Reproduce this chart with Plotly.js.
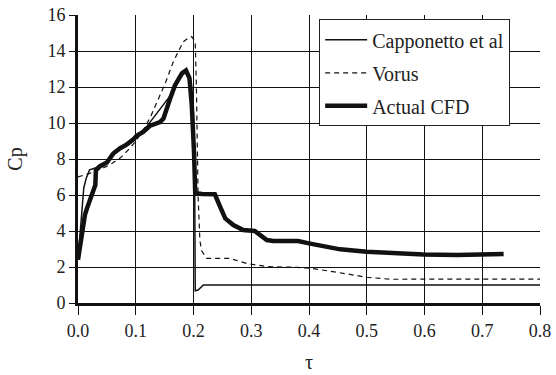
<!DOCTYPE html>
<html>
<head>
<meta charset="utf-8">
<script src="https://cdn.plot.ly/plotly-3.0.1.min.js"></script>
<style>html,body{margin:0;padding:0;background:#fff;}#chart{width:556px;height:375px;}</style>
</head>
<body>
<div id="chart"></div>
<script>
// Capponetto et al (thin solid)
var capTau = [0, 0.005, 0.01, 0.014, 0.02, 0.03, 0.043, 0.05, 0.061, 0.073, 0.084, 0.1, 0.119, 0.165, 0.175, 0.185, 0.19, 0.196, 0.2, 0.202, 0.203, 0.208, 0.217, 0.8];
var capCp  = [2.4, 4.5, 6.4, 6.9, 7.4, 7.5, 7.6, 7.8, 8.3, 8.6, 8.8, 9.24, 9.8, 11.74, 12.4, 12.85, 12.8, 12.2, 10.5, 7.0, 0.68, 0.72, 1.0, 1.0];

// Vorus (dashed)
var vorTau = [0, 0.02, 0.04, 0.055, 0.073, 0.09, 0.1, 0.113, 0.125, 0.136, 0.151, 0.165, 0.182, 0.192, 0.197, 0.203, 0.205, 0.208, 0.211, 0.214, 0.223, 0.24, 0.263, 0.292, 0.327, 0.379, 0.402, 0.45, 0.5, 0.54, 0.6, 0.7, 0.8];
var vorCp  = [7.0, 7.2, 7.45, 7.67, 8.05, 8.6, 9.0, 9.6, 10.3, 11.1, 12.2, 13.4, 14.5, 14.75, 14.8, 14.5, 12.0, 5.9, 3.5, 2.9, 2.48, 2.48, 2.48, 2.2, 2.02, 1.98, 1.93, 1.7, 1.43, 1.32, 1.32, 1.33, 1.33];

// Actual CFD (thick solid)
var cfdTau = [0, 0.012, 0.016, 0.025, 0.03, 0.031, 0.038, 0.05, 0.061, 0.073, 0.084, 0.096, 0.102, 0.113, 0.125, 0.142, 0.148, 0.159, 0.168, 0.18, 0.187, 0.193, 0.197, 0.201, 0.203, 0.215, 0.237, 0.246, 0.255, 0.269, 0.286, 0.306, 0.327, 0.338, 0.381, 0.402, 0.454, 0.5, 0.55, 0.598, 0.656, 0.7, 0.737];
var cfdCp  = [2.4, 4.9, 5.3, 6.0, 6.55, 7.4, 7.6, 7.8, 8.3, 8.6, 8.8, 9.1, 9.3, 9.5, 9.85, 10.05, 10.25, 11.3, 12.1, 12.76, 12.92, 12.5, 11.0, 8.3, 6.1, 6.05, 6.04, 5.35, 4.7, 4.33, 4.05, 4.0, 3.5, 3.44, 3.44, 3.3, 2.98, 2.85, 2.76, 2.7, 2.67, 2.68, 2.72];

var seriesNames = ['Capponetto et al', 'Vorus', 'Actual CFD'];
var xTicks = [0, 0.1, 0.2, 0.3, 0.4, 0.5, 0.6, 0.7, 0.8];
var yTicks = [0, 2, 4, 6, 8, 10, 12, 14, 16];

var FONT = 'Liberation Serif, Times New Roman, serif';

var traces = [
  {x: capTau, y: capCp, name: seriesNames[0], mode: 'lines', legendgroup: 'a',
   line: {color: '#111', width: 1.5}},
  {x: vorTau, y: vorCp, name: seriesNames[1], mode: 'lines', legendgroup: 'b',
   line: {color: '#111', width: 1.2, dash: '5px,4px'}},
  {x: cfdTau, y: cfdCp, name: seriesNames[2], mode: 'lines', legendgroup: 'c',
   line: {color: '#111', width: 4.5}}
];

var layout = {
  width: 556, height: 375,
  margin: {l: 78, r: 16, t: 15, b: 72},
  paper_bgcolor: '#fff', plot_bgcolor: '#fff',
  font: {family: FONT, color: '#222', size: 17},
  showlegend: true,
  legend: {
    x: 0.522, y: 0.985, xanchor: 'left', yanchor: 'top',
    bgcolor: '#fff', bordercolor: '#222', borderwidth: 1,
    font: {family: FONT, size: 20, color: '#222'},
    itemwidth: 42,
    entrywidth: 160, entrywidthmode: 'pixels',
    tracegroupgap: 4
  },
  xaxis: {
    range: [0, 0.8], tickvals: xTicks, tickformat: '.1f',
    showgrid: true, gridcolor: '#111', gridwidth: 1,
    zeroline: false, showline: true, linecolor: '#111', linewidth: 3,
    ticks: 'outside', ticklen: 9, tickcolor: '#111', tickwidth: 1,
    tickfont: {family: FONT, size: 18, color: '#222'},
    title: {text: 'τ', font: {family: FONT, size: 20, color: '#222'}, standoff: 16}
  },
  yaxis: {
    range: [0, 16], tickvals: yTicks,
    showgrid: true, gridcolor: '#111', gridwidth: 1,
    zeroline: false, showline: true, linecolor: '#111', linewidth: 3,
    ticks: 'outside', ticklen: 6, tickcolor: '#111', tickwidth: 1,
    tickfont: {family: FONT, size: 18, color: '#222'},
    title: {text: 'Cp', font: {family: FONT, size: 20, color: '#222'}, standoff: 20}
  }
};

Plotly.newPlot('chart', traces, layout, {displayModeBar: false, staticPlot: true});
</script>
</body>
</html>
